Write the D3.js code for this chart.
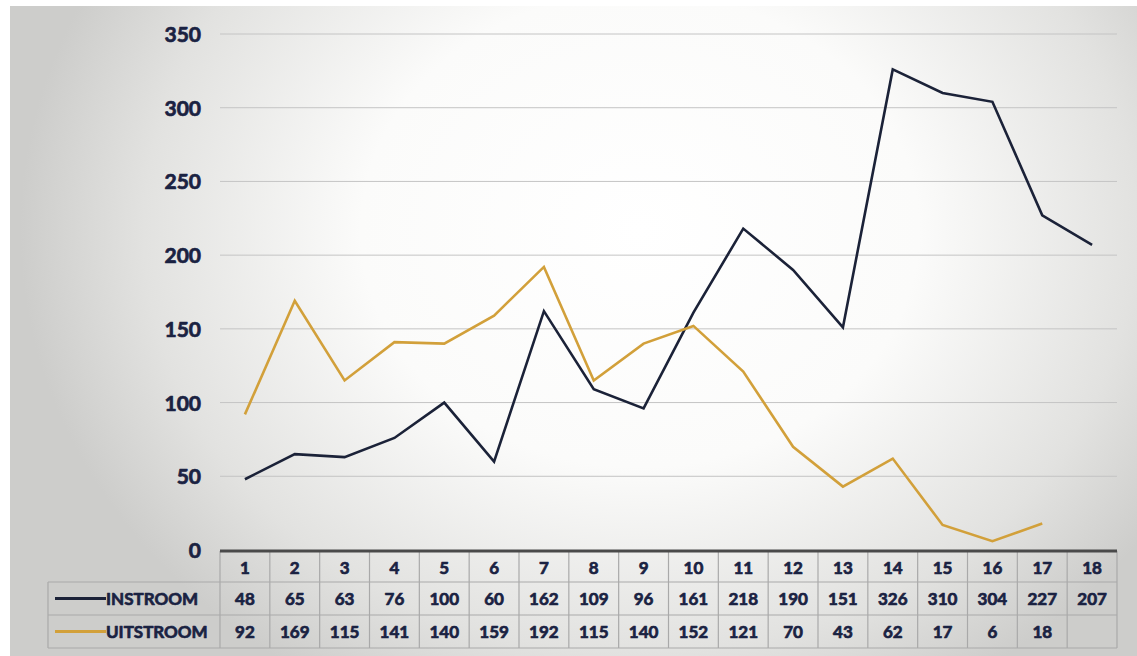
<!DOCTYPE html>
<html>
<head>
<meta charset="utf-8">
<script src="https://cdn.jsdelivr.net/npm/d3@7"></script>
<style>
html,body{margin:0;padding:0;background:#fff;}
svg{display:block;}
</style>
</head>
<body>
<svg id="chart" width="1137" height="656"></svg>
<script>
const categories = ["1","2","3","4","5","6","7","8","9","10","11","12","13","14","15","16","17","18"];
const instroom = [48,65,63,76,100,60,162,109,96,161,218,190,151,326,310,304,227,207];
const uitstroom = [92,169,115,141,140,159,192,115,140,152,121,70,43,62,17,6,18,null];
const yTicks = [0,50,100,150,200,250,300,350];
const seriesNames = ["INSTROOM","UITSTROOM"];
const seriesColors = ["#1b2238","#d2a03a"];

(function(){
const svg = d3.select("#chart");
const W = 1137, H = 656;
const pLeft = 220, pRight = 1117, pTop = 34, pBottom = 550;
const textColor = "#1a2242";
const font = "Lato, 'Open Sans', sans-serif";

// background: scanned-paper vignette
const defs = svg.append("defs");
const rg = defs.append("radialGradient").attr("id","bg")
  .attr("gradientUnits","userSpaceOnUse")
  .attr("cx",640).attr("cy",230).attr("r",620)
  .attr("gradientTransform","translate(640,230) scale(1,0.85) translate(-640,-230)");
rg.append("stop").attr("offset","0").attr("stop-color","#ffffff");
rg.append("stop").attr("offset","0.45").attr("stop-color","#fbfbfa");
rg.append("stop").attr("offset","0.8").attr("stop-color","#e2e2e0");
rg.append("stop").attr("offset","1").attr("stop-color","#cdcdcb");
svg.append("rect").attr("x",10).attr("y",6).attr("width",W-10).attr("height",H-6).attr("fill","url(#bg)");

const x = d3.scaleBand().domain(categories).range([pLeft, pRight]).padding(0);
const y = d3.scaleLinear().domain([0,350]).range([pBottom, pTop]);

// gridlines
svg.append("g").selectAll("line").data(yTicks.filter(d=>d>0)).join("line")
  .attr("x1", pLeft).attr("x2", pRight)
  .attr("y1", d=>y(d)).attr("y2", d=>y(d))
  .attr("stroke","#c4c4c4").attr("stroke-width",1);

function heavy(sel, size){
  sel.attr("font-family",font).attr("font-weight","bold")
    .attr("font-size",size).attr("fill",textColor)
    .attr("stroke",textColor).attr("stroke-width",0.7).attr("stroke-linejoin","round");
}

// y axis labels via d3 axis
const yAxis = d3.axisLeft(y).tickValues(yTicks).tickSize(0).tickPadding(0);
const gy = svg.append("g").attr("transform","translate(201,0)").call(yAxis);
gy.select(".domain").remove();
gy.selectAll("text").attr("dy","0.36em").call(heavy,"21px");

// lines
const series = [instroom, uitstroom];
series.forEach((vals,i)=>{
  const line = d3.line()
    .defined(d=>d!=null)
    .x((d,j)=>x(categories[j]) + x.bandwidth()/2)
    .y(d=>y(d));
  svg.append("path").datum(vals).attr("d",line)
    .attr("fill","none").attr("stroke",seriesColors[i]).attr("stroke-width",2.6)
    .attr("stroke-linejoin","miter");
});

// data table
const tblLeft = 48;
const rowY = [551, 582, 615, 648];
const tg = svg.append("g");
const gridCol = "#a9a9a9";
const bounds = categories.map(c=>x(c)).concat([pRight]);
tg.selectAll("line.v").data(bounds).join("line").attr("class","v")
  .attr("x1",d=>d).attr("x2",d=>d).attr("y1",rowY[0]).attr("y2",rowY[3])
  .attr("stroke",gridCol).attr("stroke-width",1.2);
tg.append("line").attr("x1",tblLeft).attr("x2",tblLeft).attr("y1",rowY[1]).attr("y2",rowY[3])
  .attr("stroke",gridCol).attr("stroke-width",1.2);
[rowY[1],rowY[2],rowY[3]].forEach(yy=>{
  tg.append("line").attr("x1",tblLeft).attr("x2",pRight).attr("y1",yy).attr("y2",yy)
    .attr("stroke",gridCol).attr("stroke-width",1.2);
});
// thick zero axis line
svg.append("line").attr("x1",pLeft).attr("x2",pRight).attr("y1",y(0)+1).attr("y2",y(0)+1)
  .attr("stroke","#4a4a4a").attr("stroke-width",3);

// header row
tg.selectAll("text.h").data(categories).join("text").attr("class","h")
  .attr("x",d=>x(d)+x.bandwidth()/2).attr("y",(rowY[0]+rowY[1])/2+1)
  .attr("text-anchor","middle").attr("dy","0.36em")
  .text(d=>d).call(heavy,"17px");

series.forEach((vals,i)=>{
  const cy = (rowY[i+1]+rowY[i+2])/2;
  tg.selectAll("text.r"+i).data(vals).join("text").attr("class","r"+i)
    .attr("x",(d,j)=>x(categories[j])+x.bandwidth()/2).attr("y",cy)
    .attr("text-anchor","middle").attr("dy","0.36em")
    .text(d=>d==null?"":d).call(heavy,"17px");
  tg.append("line").attr("x1",55).attr("x2",106).attr("y1",cy).attr("y2",cy)
    .attr("stroke",seriesColors[i]).attr("stroke-width",3);
  tg.append("text").attr("x",106).attr("y",cy).attr("dy","0.36em")
    .text(seriesNames[i]).call(heavy,"17px");
});
})();
</script>
</body>
</html>
